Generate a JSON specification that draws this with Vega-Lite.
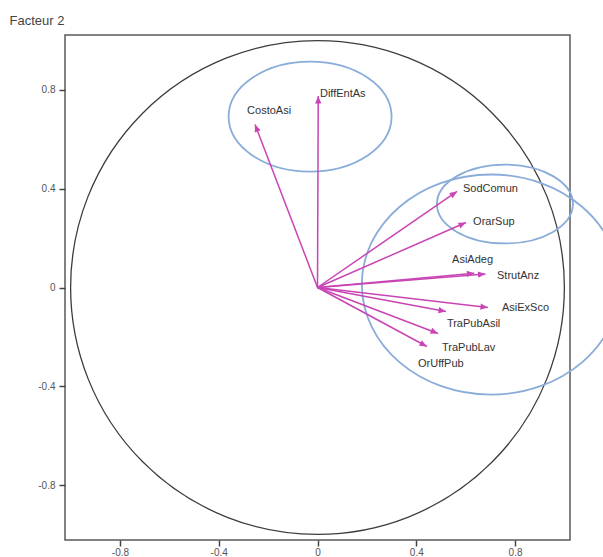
{
  "$schema": "https://vega.github.io/schema/vega-lite/v6.json",
  "width": 505,
  "height": 505,
  "autosize": {"type": "none"},
  "padding": {"left": 65, "top": 35, "right": 33, "bottom": 17},
  "background": "white",
  "config": {"view": {"stroke": "#5a5a5a", "strokeWidth": 1.5}, "font": "Liberation Sans"},
  "datasets": {
    "vectors": [
      {"name": "DiffEntAs", "x": 0.003, "y": 0.775, "lx": 0.01, "ly": 0.785},
      {"name": "CostoAsi", "x": -0.253, "y": 0.66, "lx": -0.285, "ly": 0.713},
      {"name": "SodComun", "x": 0.565, "y": 0.389, "lx": 0.589, "ly": 0.397},
      {"name": "OrarSup", "x": 0.601, "y": 0.263, "lx": 0.63, "ly": 0.267},
      {"name": "AsiAdeg", "x": 0.635, "y": 0.058, "lx": 0.545, "ly": 0.113},
      {"name": "StrutAnz", "x": 0.68, "y": 0.055, "lx": 0.727, "ly": 0.045},
      {"name": "AsiExSco", "x": 0.69, "y": -0.081, "lx": 0.747, "ly": -0.085},
      {"name": "TraPubAsil", "x": 0.52, "y": -0.097, "lx": 0.524, "ly": -0.146},
      {"name": "TraPubLav", "x": 0.488, "y": -0.186, "lx": 0.504, "ly": -0.247},
      {"name": "OrUffPub", "x": 0.443, "y": -0.239, "lx": 0.407, "ly": -0.308}
    ],
    "origin": [{"x": 0, "y": 0}],
    "ellipseTop": [{"x": -0.03, "y": 0.692}],
    "ellipseSmall": [{"x": 0.759, "y": 0.338}],
    "ellipseLarge": [{"x": 0.702, "y": 0.012}]
  },
  "layer": [
    {
      "data": {"name": "origin"},
      "mark": {"type": "point", "shape": "circle", "size": 243800, "filled": false, "stroke": "#3c3c3c", "strokeWidth": 1.3, "opacity": 1},
      "encoding": {
        "x": {"field": "x", "type": "quantitative", "scale": {"domain": [-1.0225, 1.0225], "nice": false, "zero": false},
          "axis": {"values": [-0.8, -0.4, 0, 0.4, 0.8], "labelExpr": "datum.value == 0 ? '0' : (datum.value < 0 ? '-' : '') + format(abs(datum.value), '.1f')", "grid": false, "domain": false, "tickSize": 6, "tickColor": "#444444", "tickWidth": 1.5, "labelFont": "Liberation Sans", "labelFontSize": 10, "labelColor": "#555555", "labelPadding": 1, "title": null}},
        "y": {"field": "y", "type": "quantitative", "scale": {"domain": [-1.0225, 1.0225], "nice": false, "zero": false},
          "axis": {"values": [-0.8, -0.4, 0, 0.4, 0.8], "labelExpr": "datum.value == 0 ? '0' : (datum.value < 0 ? '-' : '') + format(abs(datum.value), '.1f')", "grid": false, "domain": false, "tickSize": 6, "tickColor": "#444444", "tickWidth": 1.5, "labelFont": "Liberation Sans", "labelFontSize": 10, "labelColor": "#555555", "labelPadding": 4,
            "title": "Facteur 2", "titleAngle": 0, "titleX": -56, "titleY": -11, "titleAlign": "left", "titleBaseline": "alphabetic", "titleFont": "Liberation Sans", "titleFontSize": 13, "titleFontWeight": "normal", "titleColor": "#444444"}}
      }
    },
    {
      "mark": {"type": "rule", "color": "#333333", "strokeWidth": 1.2, "strokeDash": [3, 3]},
      "encoding": {"y": {"datum": 0, "type": "quantitative", "scale": {"domain": [-1.0225, 1.0225], "nice": false, "zero": false}}}
    },
    {
      "mark": {"type": "rule", "color": "#333333", "strokeWidth": 1.2, "strokeDash": [3, 3]},
      "encoding": {"x": {"datum": 0, "type": "quantitative", "scale": {"domain": [-1.0225, 1.0225], "nice": false, "zero": false}}}
    },
    {
      "data": {"name": "ellipseTop"},
      "mark": {"type": "point", "shape": "M1,0C1,0.373 0.552,0.675 0,0.675C-0.552,0.675 -1,0.373 -1,0C-1,-0.373 -0.552,-0.675 0,-0.675C0.552,-0.675 1,-0.373 1,0Z", "size": 26569, "filled": false, "stroke": "#8aacd9", "strokeWidth": 1.8, "opacity": 1},
      "encoding": {
        "x": {"field": "x", "type": "quantitative", "scale": {"domain": [-1.0225, 1.0225], "nice": false, "zero": false}},
        "y": {"field": "y", "type": "quantitative", "scale": {"domain": [-1.0225, 1.0225], "nice": false, "zero": false}}
      }
    },
    {
      "data": {"name": "ellipseSmall"},
      "mark": {"type": "point", "shape": "M1,0C1,0.32 0.552,0.58 0,0.58C-0.552,0.58 -1,0.32 -1,0C-1,-0.32 -0.552,-0.58 0,-0.58C0.552,-0.58 1,-0.32 1,0Z", "size": 18496, "filled": false, "stroke": "#8aacd9", "strokeWidth": 1.8, "opacity": 1},
      "encoding": {
        "x": {"field": "x", "type": "quantitative", "scale": {"domain": [-1.0225, 1.0225], "nice": false, "zero": false}},
        "y": {"field": "y", "type": "quantitative", "scale": {"domain": [-1.0225, 1.0225], "nice": false, "zero": false}}
      }
    },
    {
      "data": {"name": "ellipseLarge"},
      "mark": {"type": "point", "shape": "M1,0C1,0.471 0.552,0.853 0,0.853C-0.552,0.853 -1,0.471 -1,0C-1,-0.471 -0.552,-0.853 0,-0.853C0.552,-0.853 1,-0.471 1,0Z", "size": 66564, "filled": false, "stroke": "#8aacd9", "strokeWidth": 1.8, "opacity": 1},
      "encoding": {
        "x": {"field": "x", "type": "quantitative", "scale": {"domain": [-1.0225, 1.0225], "nice": false, "zero": false}},
        "y": {"field": "y", "type": "quantitative", "scale": {"domain": [-1.0225, 1.0225], "nice": false, "zero": false}}
      }
    },
    {
      "data": {"name": "vectors"},
      "mark": {"type": "rule", "color": "#c944b4", "strokeWidth": 1.5},
      "encoding": {
        "x": {"field": "x", "type": "quantitative", "scale": {"domain": [-1.0225, 1.0225], "nice": false, "zero": false}},
        "y": {"field": "y", "type": "quantitative", "scale": {"domain": [-1.0225, 1.0225], "nice": false, "zero": false}},
        "x2": {"datum": 0},
        "y2": {"datum": 0}
      }
    },
    {
      "data": {"name": "vectors"},
      "transform": [{"calculate": "90 - atan2(datum.y, datum.x) * 180 / PI", "as": "ang"}],
      "mark": {"type": "point", "shape": "M0,0L0.55,1.3L-0.55,1.3Z", "size": 130, "filled": true, "color": "#c944b4", "opacity": 1},
      "encoding": {
        "x": {"field": "x", "type": "quantitative", "scale": {"domain": [-1.0225, 1.0225], "nice": false, "zero": false}},
        "y": {"field": "y", "type": "quantitative", "scale": {"domain": [-1.0225, 1.0225], "nice": false, "zero": false}},
        "angle": {"field": "ang", "type": "quantitative", "scale": null}
      }
    },
    {
      "data": {"name": "vectors"},
      "mark": {"type": "text", "align": "left", "baseline": "middle", "font": "Liberation Sans", "fontSize": 11, "color": "#333333"},
      "encoding": {
        "x": {"field": "lx", "type": "quantitative", "scale": {"domain": [-1.0225, 1.0225], "nice": false, "zero": false}},
        "y": {"field": "ly", "type": "quantitative", "scale": {"domain": [-1.0225, 1.0225], "nice": false, "zero": false}},
        "text": {"field": "name"}
      }
    }
  ]
}
